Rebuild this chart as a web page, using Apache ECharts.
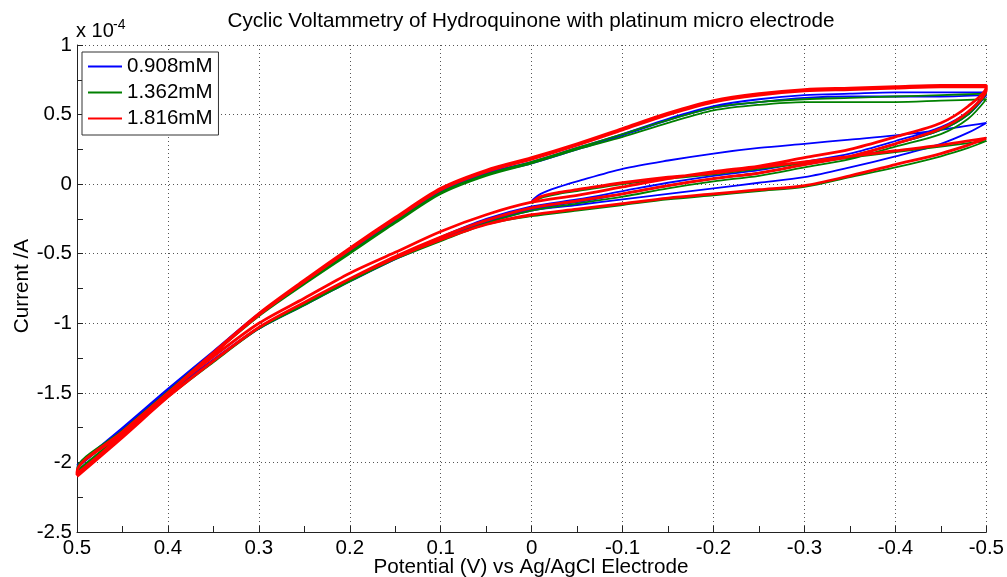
<!DOCTYPE html>
<html><head><meta charset="utf-8">
<script src="https://cdn.jsdelivr.net/npm/echarts@6/dist/echarts.min.js"></script>
<style>html,body{margin:0;padding:0;background:#fff}#c{width:1007px;height:577px}</style>
</head><body><div id="c"></div>
<script>
// ---------------- DATA (potential in V, current in units of 1e-4 A) ----------------
const seriesNames = ['0.908mM', '1.362mM', '1.816mM'];

// potential grids for each sweep segment
const potStart = [0, -0.01, -0.03, -0.05, -0.1, -0.15, -0.2, -0.25, -0.3, -0.35, -0.4, -0.45, -0.5];
const potRev = [-0.5, -0.48, -0.45, -0.4, -0.35, -0.3, -0.25, -0.2, -0.15, -0.1, -0.05, 0, 0.05, 0.1, 0.15, 0.2, 0.25, 0.3, 0.35, 0.4, 0.45, 0.5];
const potFwd = [0.5, 0.45, 0.4, 0.35, 0.3, 0.25, 0.2, 0.15, 0.1, 0.05, 0, -0.05, -0.1, -0.15, -0.2, -0.25, -0.3, -0.35, -0.4, -0.45, -0.5];

// 0.908 mM (blue)
const blueStart = [-0.12, -0.07, -0.02, 0.02, 0.11, 0.17, 0.22, 0.26, 0.29, 0.32, 0.35, 0.39, 0.44];
const blueRev1  = [0.44, 0.37, 0.29, 0.20, 0.12, 0.05, 0.01, -0.03, -0.07, -0.11, -0.15, -0.19, -0.28, -0.40, -0.54, -0.70, -0.86, -1.03, -1.26, -1.51, -1.77, -2.02];
const blueFwd1  = [-2.02, -1.75, -1.47, -1.20, -0.93, -0.70, -0.48, -0.26, -0.05, 0.08, 0.16, 0.26, 0.36, 0.47, 0.56, 0.61, 0.64, 0.65, 0.66, 0.66, 0.66];
const blueRev2  = [0.66, 0.52, 0.41, 0.31, 0.22, 0.16, 0.10, 0.06, 0.01, -0.05, -0.11, -0.16, -0.25, -0.38, -0.53, -0.69, -0.86, -1.03, -1.26, -1.50, -1.76, -2.03];
const blueFwd2  = [-2.03, -1.76, -1.48, -1.21, -0.94, -0.71, -0.49, -0.27, -0.06, 0.07, 0.15, 0.25, 0.35, 0.46, 0.55, 0.59, 0.62, 0.63, 0.63, 0.63, 0.64];
const blueRev3  = [0.64, 0.50, 0.39, 0.29, 0.20, 0.14, 0.08, 0.04, -0.01, -0.07, -0.13, -0.18, -0.27, -0.39, -0.54, -0.70, -0.87, -1.04, -1.27, -1.51, -1.77, -2.04];

// 1.362 mM (green)
const greenStart = [-0.14, -0.10, -0.07, -0.05, 0.00, 0.04, 0.07, 0.11, 0.15, 0.19, 0.23, 0.27, 0.31];
const greenRev1  = [0.31, 0.26, 0.20, 0.12, 0.05, -0.02, -0.05, -0.08, -0.11, -0.15, -0.19, -0.23, -0.29, -0.41, -0.54, -0.69, -0.86, -1.03, -1.27, -1.52, -1.79, -2.06];
const greenFwd1  = [-2.05, -1.77, -1.49, -1.21, -0.94, -0.71, -0.49, -0.27, -0.06, 0.07, 0.16, 0.26, 0.36, 0.46, 0.55, 0.59, 0.61, 0.62, 0.63, 0.64, 0.65];
const greenRev2  = [0.65, 0.50, 0.39, 0.29, 0.20, 0.14, 0.08, 0.04, -0.01, -0.07, -0.12, -0.17, -0.26, -0.38, -0.53, -0.69, -0.86, -1.03, -1.27, -1.52, -1.80, -2.07];
const greenFwd2  = [-2.06, -1.78, -1.50, -1.22, -0.95, -0.72, -0.50, -0.28, -0.07, 0.06, 0.15, 0.25, 0.34, 0.44, 0.53, 0.57, 0.59, 0.59, 0.59, 0.60, 0.61];
const greenRev3  = [0.61, 0.47, 0.36, 0.27, 0.18, 0.12, 0.06, 0.02, -0.03, -0.09, -0.14, -0.19, -0.28, -0.40, -0.54, -0.70, -0.87, -1.04, -1.28, -1.53, -1.81, -2.09];

// 1.816 mM (red)
const redStart = [-0.13, -0.09, -0.06, -0.04, 0.01, 0.05, 0.08, 0.12, 0.16, 0.20, 0.24, 0.28, 0.33];
const redRev1  = [0.33, 0.28, 0.22, 0.14, 0.06, -0.01, -0.04, -0.07, -0.10, -0.14, -0.18, -0.22, -0.29, -0.40, -0.53, -0.68, -0.85, -1.03, -1.27, -1.53, -1.81, -2.08];
const redFwd1  = [-2.07, -1.78, -1.50, -1.21, -0.93, -0.69, -0.46, -0.24, -0.03, 0.10, 0.19, 0.29, 0.40, 0.51, 0.60, 0.65, 0.68, 0.69, 0.70, 0.71, 0.71];
const redRev2  = [0.70, 0.56, 0.44, 0.34, 0.25, 0.19, 0.13, 0.09, 0.04, -0.02, -0.08, -0.13, -0.22, -0.34, -0.49, -0.64, -0.82, -1.00, -1.24, -1.50, -1.79, -2.07];
const redFwd2  = [-2.09, -1.80, -1.51, -1.22, -0.94, -0.70, -0.47, -0.25, -0.04, 0.09, 0.18, 0.28, 0.39, 0.50, 0.59, 0.64, 0.67, 0.68, 0.69, 0.70, 0.70];
const redRev3  = [0.68, 0.52, 0.40, 0.29, 0.20, 0.14, 0.08, 0.04, -0.01, -0.07, -0.12, -0.17, -0.26, -0.38, -0.52, -0.68, -0.85, -1.03, -1.27, -1.53, -1.82, -2.10];

// axis ranges / ticks
const xMin = -0.5, xMax = 0.5, xStep = 0.1;
const yMin = -2.5, yMax = 1, yStep = 0.5;

// ---------------- BUILD ----------------
function seg(pots, vals) { return pots.map((p, i) => [p, vals[i]]); }
function trace(start, r1, f1, r2, f2, r3) {
  return [].concat(seg(potStart, start), seg(potRev, r1), seg(potFwd, f1),
                   seg(potRev, r2), seg(potFwd, f2), seg(potRev, r3));
}
const traces = [
  trace(blueStart, blueRev1, blueFwd1, blueRev2, blueFwd2, blueRev3),
  trace(greenStart, greenRev1, greenFwd1, greenRev2, greenFwd2, greenRev3),
  trace(redStart, redRev1, redFwd1, redRev2, redFwd2, redRev3)
];
const colors = ['#0000ff', '#008000', '#ff0000'];
const widths = [1.8, 1.8, 2.8];
const FONT = '"Liberation Sans", Arial, sans-serif';
const fmt = v => String(Math.round(v * 10) / 10);

const chart = echarts.init(document.getElementById('c'), null, { renderer: 'canvas' });
chart.setOption({
  animation: false,
  backgroundColor: '#fff',
  textStyle: { fontFamily: FONT },
  grid: { left: 77, right: 17, top: 45, bottom: 45 },
  legend: {
    orient: 'vertical', left: 82, top: 52,
    data: seriesNames,
    icon: 'rect', itemWidth: 34, itemHeight: 2, itemGap: 5,
    padding: [4, 6, 6, 6],
    borderColor: '#333', borderWidth: 1, backgroundColor: '#fff',
    textStyle: { fontFamily: FONT, fontSize: 20.5, color: '#000', lineHeight: 20 },
    selectedMode: false
  },
  xAxis: {
    type: 'value', inverse: true, min: xMin, max: xMax, interval: xStep,
    axisLine: { onZero: false, lineStyle: { color: '#222', width: 1 } },
    axisTick: { inside: true, length: 6, lineStyle: { color: '#222' } },
    minorTick: { show: true, splitNumber: 2, length: 6, lineStyle: { color: '#222' } },
    axisLabel: { formatter: fmt, fontSize: 20.5, color: '#000', fontFamily: FONT, margin: 6 },
    splitLine: { show: true, lineStyle: { color: '#555', type: [1, 3], width: 1 } }
  },
  yAxis: {
    type: 'value', min: yMin, max: yMax, interval: yStep,
    axisLine: { show: true, onZero: false, lineStyle: { color: '#222', width: 1 } },
    axisTick: { show: true, inside: true, length: 6, lineStyle: { color: '#222' } },
    minorTick: { show: true, splitNumber: 2, length: 6, lineStyle: { color: '#222' } },
    axisLabel: { formatter: fmt, fontSize: 20.5, color: '#000', fontFamily: FONT, margin: 5 },
    splitLine: { show: true, lineStyle: { color: '#555', type: [1, 3], width: 1 } }
  },
  graphic: [
    { type: 'text', x: 531, y: 21, style: { text: 'Cyclic Voltammetry of Hydroquinone with platinum micro electrode', fill: '#000', font: '20.7px ' + FONT, textAlign: 'center', textVerticalAlign: 'middle' } },
    { type: 'text', x: 531, y: 567, style: { text: 'Potential (V) vs Ag/AgCl Electrode', fill: '#000', font: '20.7px ' + FONT, textAlign: 'center', textVerticalAlign: 'middle' } },
    { type: 'text', x: 22, y: 286, rotation: Math.PI / 2, style: { text: 'Current /A', fill: '#000', font: '20.7px ' + FONT, textAlign: 'center', textVerticalAlign: 'middle' } },
    { type: 'text', x: 76, y: 41, style: { text: 'x 10', fill: '#000', font: '20px ' + FONT, textAlign: 'left', textVerticalAlign: 'bottom' } },
    { type: 'text', x: 113, y: 32, style: { text: '-4', fill: '#000', font: '14px ' + FONT, textAlign: 'left', textVerticalAlign: 'bottom' } }
  ],
  series: traces.map((d, i) => ({
    name: seriesNames[i], type: 'line', data: d,
    showSymbol: false, smooth: 0.3, clip: true,
    lineStyle: { color: colors[i], width: widths[i] },
    itemStyle: { color: colors[i] }
  }))
});
</script></body></html>
